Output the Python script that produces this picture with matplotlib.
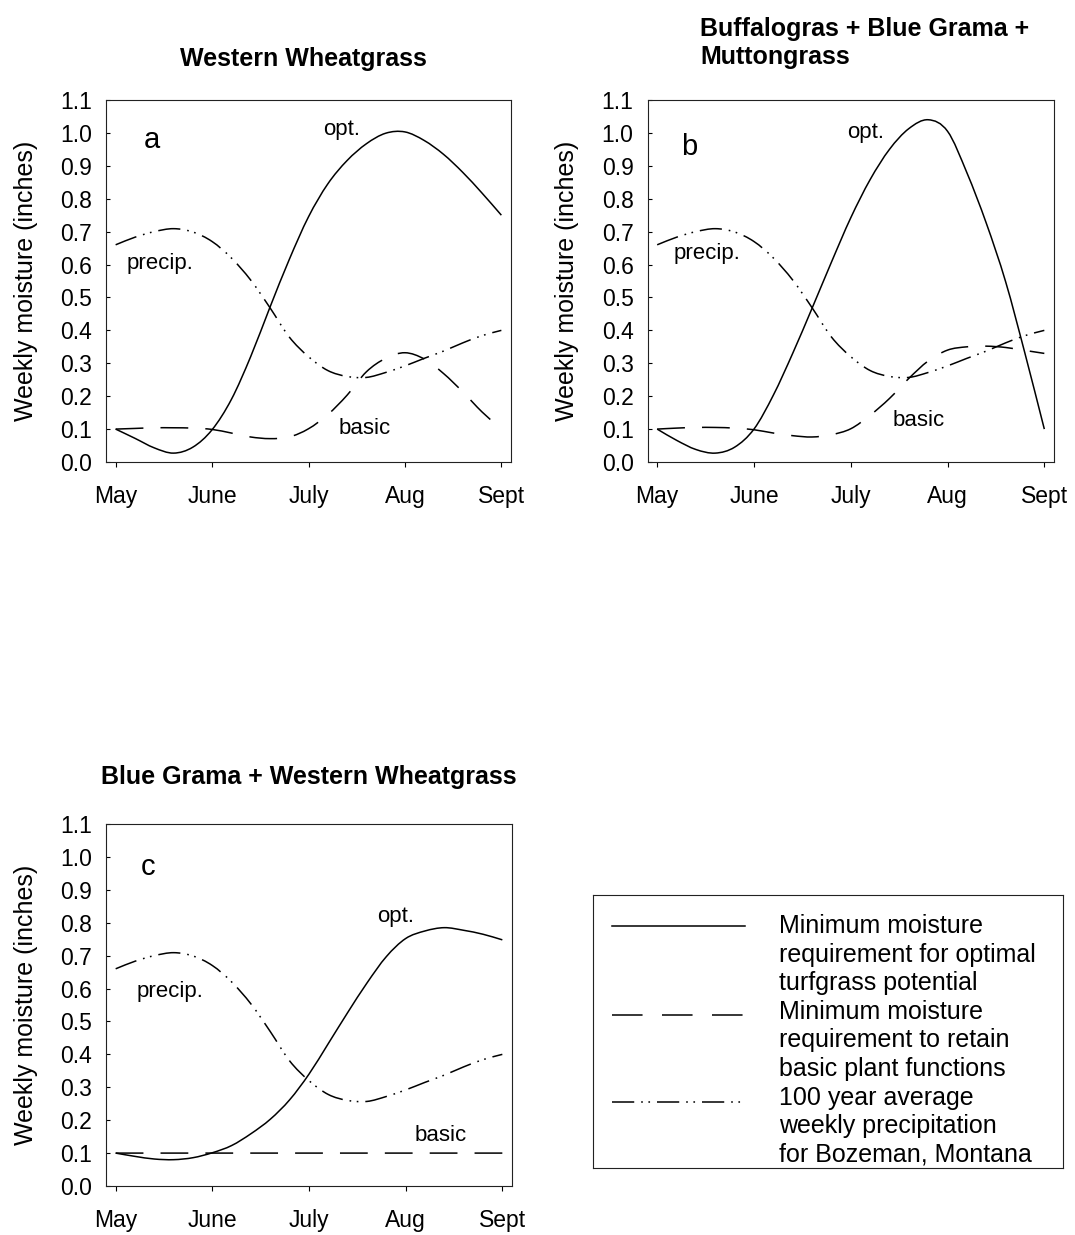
import numpy as np
import matplotlib
matplotlib.use('Agg')
import matplotlib.pyplot as plt
from matplotlib.path import Path
from matplotlib.patches import PathPatch

plt.rcParams['font.family'] = ['Liberation Sans', 'DejaVu Sans']
plt.rcParams['lines.scale_dashes'] = False

# time axis in months after 1 May (May=0 ... Sept=4)
months = [0.0, 0.2, 0.4, 0.6, 0.8, 1.0, 1.2, 1.4, 1.6, 1.8, 2.0,
          2.2, 2.4, 2.6, 2.8, 3.0, 3.2, 3.4, 3.6, 3.8, 4.0]
month_ticks = [0, 1, 2, 3, 4]
month_labels = ['May', 'June', 'July', 'Aug', 'Sept']
moisture_ticks = [0.0, 0.1, 0.2, 0.3, 0.4, 0.5, 0.6, 0.7, 0.8, 0.9, 1.0, 1.1]

# 100 year average weekly precipitation, Bozeman (same in every panel)
precip = [0.66, 0.683, 0.70, 0.709, 0.699, 0.67, 0.62, 0.553, 0.469, 0.38, 0.32,
          0.278, 0.26, 0.257, 0.272, 0.292, 0.315, 0.337, 0.362, 0.384, 0.40]

# a: western wheatgrass
opt_a = [0.10, 0.072, 0.043, 0.027, 0.045, 0.098, 0.19, 0.32, 0.47, 0.615, 0.745,
         0.845, 0.916, 0.967, 0.999, 1.003, 0.977, 0.935, 0.88, 0.817, 0.75]
basic_a = [0.10, 0.102, 0.104, 0.104, 0.103, 0.099, 0.088, 0.076, 0.071, 0.076, 0.101,
           0.144, 0.203, 0.274, 0.315, 0.332, 0.313, 0.269, 0.213, 0.152, 0.10]

# b: buffalograss + blue grama + muttongrass
opt_b = [0.10, 0.066, 0.038, 0.027, 0.045, 0.10, 0.203, 0.33, 0.467, 0.607, 0.742,
         0.858, 0.95, 1.013, 1.04, 1.005, 0.879, 0.726, 0.548, 0.33, 0.10]
basic_b = [0.10, 0.103, 0.105, 0.105, 0.103, 0.098, 0.088, 0.08, 0.076, 0.083, 0.101,
           0.142, 0.193, 0.254, 0.307, 0.34, 0.35, 0.352, 0.348, 0.339, 0.33]

# c: blue grama + western wheatgrass
opt_c = [0.10, 0.09, 0.082, 0.08, 0.086, 0.101, 0.123, 0.159, 0.203, 0.262, 0.34,
         0.433, 0.527, 0.617, 0.697, 0.752, 0.775, 0.785, 0.777, 0.765, 0.748]
basic_c = [0.10, 0.10, 0.10, 0.10, 0.10, 0.10, 0.10, 0.10, 0.10, 0.10, 0.10,
           0.10, 0.10, 0.10, 0.10, 0.10, 0.10, 0.10, 0.10, 0.10, 0.10]

legend_text = [
    'Minimum moisture', 'requirement for optimal', 'turfgrass potential',
    'Minimum moisture', 'requirement to retain', 'basic plant functions',
    '100 year average', 'weekly precipitation', 'for Bozeman, Montana',
]

W, H = 1075, 1235
fig = plt.figure(figsize=(W / 100, H / 100), dpi=100)


def px_axes(l, t, r, b):
    # axes from a pixel box (left, top, right, bottom)
    return fig.add_axes([l / W, 1 - b / H, (r - l) / W, (b - t) / H])


solid = dict(color='k', lw=1.1, ls='-')
dashed = dict(color='k', lw=1.1, ls=(0, (20, 12.3)))
dashdotdot = dict(color='k', lw=1.1, ls=(0, (16, 5, 1.2, 4, 1.2, 5)))


def spline_path(x, y):
    # Catmull-Rom curve through the weekly values, drawn as cubic Beziers
    pts = np.column_stack([x, y]).astype(float)
    ext = np.vstack([2 * pts[0] - pts[1], pts, 2 * pts[-1] - pts[-2]])
    verts = [pts[0]]
    codes = [Path.MOVETO]
    for i in range(len(pts) - 1):
        p0, p1, p2, p3 = ext[i], ext[i + 1], ext[i + 2], ext[i + 3]
        verts += [p1 + (p2 - p0) / 6, p2 - (p3 - p1) / 6, p2]
        codes += [Path.CURVE4] * 3
    return Path(verts, codes)


def curve(ax, y, style):
    ax.add_patch(PathPatch(spline_path(months, y), fill=False, edgecolor=style['color'],
                           lw=style['lw'], ls=style['ls'], capstyle='butt'))


def panel(ax, opt, basic, letter, letter_xy, opt_xy, basic_xy, precip_xy):
    curve(ax, opt, solid)
    curve(ax, basic, dashed)
    curve(ax, precip, dashdotdot)
    ax.set_xlim(-0.1, 4.1)
    ax.set_ylim(0, 1.1)
    ax.set_xticks(month_ticks, month_labels)
    ax.set_yticks(moisture_ticks, ['%.1f' % v for v in moisture_ticks])
    ax.tick_params(axis='x', direction='out', length=3.5, width=0.8, pad=13, labelsize=16.5)
    ax.tick_params(axis='y', direction='in', length=3, width=0.8, pad=10, labelsize=16.5)
    ax.set_ylabel('Weekly moisture (inches)', fontsize=18)
    ax.yaxis.set_label_coords(-0.168, 0.5)
    for s in ax.spines.values():
        s.set_linewidth(0.8)
        s.set_color('#222222')
    ax.text(*letter_xy, letter, fontsize=21, va='baseline')
    ax.text(*opt_xy, 'opt.', fontsize=16, va='baseline')
    ax.text(*basic_xy, 'basic', fontsize=16, va='baseline')
    ax.text(*precip_xy, 'precip.', fontsize=16, va='baseline')


ax_a = px_axes(106, 100, 511, 462)
panel(ax_a, opt_a, basic_a, 'a', (0.296, 0.954), (2.156, 0.995), (2.311, 0.084), (0.116, 0.586))

ax_b = px_axes(647.5, 100, 1054, 462)
panel(ax_b, opt_b, basic_b, 'b', (0.25, 0.934), (1.964, 0.984), (2.433, 0.109), (0.166, 0.617))

ax_c = px_axes(106, 824, 512, 1186)
panel(ax_c, opt_c, basic_c, 'c', (0.262, 0.944), (2.705, 0.803), (3.095, 0.137), (0.221, 0.575))

title_kw = dict(fontsize=18, fontweight='bold', va='baseline')
fig.text(303 / W, 1 - 66 / H, 'Western Wheatgrass', ha='center', **title_kw)
fig.text(700 / W, 1 - 36 / H, 'Buffalogras + Blue Grama +', ha='left', **title_kw)
fig.text(700 / W, 1 - 64 / H, 'Muttongrass', ha='left', **title_kw)
fig.text(309 / W, 1 - 784 / H, 'Blue Grama + Western Wheatgrass', ha='center', **title_kw)

# legend box, laid out in pixel units
ax_leg = px_axes(593, 895, 1063, 1168)
ax_leg.set_xlim(593, 1063)
ax_leg.set_ylim(1168, 895)
ax_leg.set_xticks([])
ax_leg.set_yticks([])
for s in ax_leg.spines.values():
    s.set_linewidth(0.8)
    s.set_color('#222222')
ax_leg.plot([612, 745], [926, 926], **solid)
ax_leg.plot([612, 743], [1015, 1015], color='k', lw=1.1, ls=(0, (22, 14)))
ax_leg.plot([612, 745], [1102, 1102], **dashdotdot)
for i, line in enumerate(legend_text):
    ax_leg.text(779, 933 + 28.6 * i, line, fontsize=18, va='baseline')

fig.savefig('out.png', dpi=100)
